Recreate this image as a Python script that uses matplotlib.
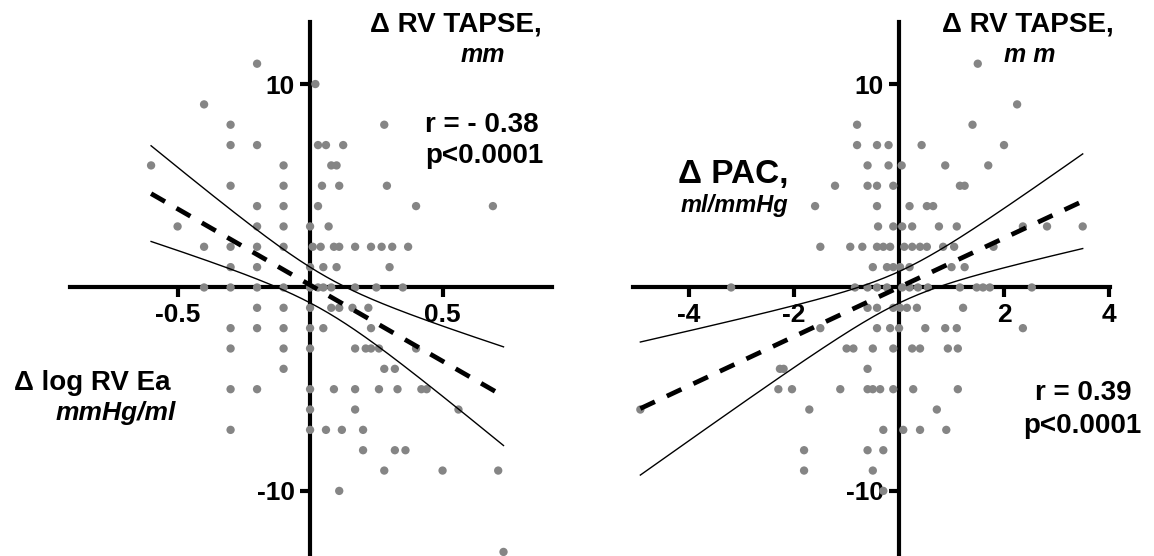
import numpy as np
import matplotlib
matplotlib.use("Agg")
import matplotlib.pyplot as plt

plt.rcParams['font.family'] = ['Liberation Sans', 'DejaVu Sans']
plt.rcParams['font.weight'] = 'bold'

# left panel: delta log RV Ea (x) vs delta RV TAPSE (y)
ea_x = [-0.2,
        0.02,
        -0.4,
        -0.3, 0.28,
        -0.3, -0.2, 0.03, 0.06, 0.125,
        -0.6, -0.1, 0.08, 0.1,
        -0.3, -0.1, 0.045, 0.11, 0.29,
        -0.2, -0.1, 0.03, 0.4, 0.69,
        -0.5, -0.2, -0.1, 0.0, 0.07,
        -0.4, -0.3, -0.2, -0.1, 0.01, 0.04, 0.09, 0.11, 0.17, 0.23, 0.27, 0.31, 0.37,
        -0.3, -0.2, 0.0, 0.05, 0.1, 0.3,
        -0.4, -0.3, -0.2, -0.1, 0.0, 0.03, 0.05, 0.08, 0.17, 0.25, 0.35,
        -0.2, -0.1, 0.0, 0.08, 0.11, 0.16, 0.22,
        -0.3, -0.2, -0.1, 0.0, 0.05, 0.23,
        -0.3, -0.1, 0.0, 0.17, 0.21, 0.23, 0.26, 0.4,
        -0.1, 0.28, 0.32,
        -0.3, -0.2, 0.0, 0.09, 0.17, 0.26, 0.33, 0.42, 0.44,
        0.0, 0.17, 0.56,
        -0.3, 0.0, 0.06, 0.12, 0.2,
        0.2, 0.32, 0.36,
        0.28, 0.5, 0.71,
        0.11,
        0.73]
ea_y = [11,
        10,
        9,
        8, 8,
        7, 7, 7, 7, 7,
        6, 6, 6, 6,
        5, 5, 5, 5, 5,
        4, 4, 4, 4, 4,
        3, 3, 3, 3, 3,
        2, 2, 2, 2, 2, 2, 2, 2, 2, 2, 2, 2, 2,
        1, 1, 1, 1, 1, 1,
        0, 0, 0, 0, 0, 0, 0, 0, 0, 0, 0,
        -1, -1, -1, -1, -1, -1, -1,
        -2, -2, -2, -2, -2, -2,
        -3, -3, -3, -3, -3, -3, -3, -3,
        -4, -4, -4,
        -5, -5, -5, -5, -5, -5, -5, -5, -5,
        -6, -6, -6,
        -7, -7, -7, -7, -7,
        -8, -8, -8,
        -9, -9, -9,
        -10,
        -13]

# right panel: delta PAC (x) vs delta RV TAPSE (y)
pac_x = [1.5,
         2.25,
         -0.8, 1.4,
         -0.8, -0.42, -0.2, 0.43, 2.0,
         -0.6, -0.2, 0.05, 0.88, 1.7,
         -1.22, -0.6, -0.42, -0.11, 1.16, 1.25,
         -1.6, -0.42, 0.2, 0.53, 0.65,
         -0.4, -0.11, 0.06, 0.25, 0.76, 1.1, 2.36, 2.82, 3.5,
         -1.5, -0.93, -0.7, -0.42, -0.3, -0.17, 0.1, 0.25, 0.4, 0.53, 0.84, 1.05, 1.8,
         -0.5, -0.23, -0.11, 0.02, 0.2, 1.0, 1.25,
         -3.2, -0.84, -0.6, -0.42, -0.23, 0.06, 0.2, 0.36, 0.55, 1.16, 1.48, 1.6, 1.73, 2.53,
         -0.6, -0.42, -0.11, 0.02, 0.15, 0.34, 1.22,
         -1.5, -0.42, -0.17, 0.0, 0.5, 0.88, 1.1, 2.36,
         -1.0, -0.87, -0.5, -0.11, 0.25, 0.4, 0.93, 1.12,
         -2.27, -2.2, -0.6,
         -2.3, -2.04, -1.12, -0.6, -0.5, -0.36, -0.11, 0.27, 1.12,
         -4.93, -1.71, 0.72,
         -0.3, 0.08, 0.4, 0.9,
         -1.81, -0.6, -0.3,
         -1.81, -0.5,
         -0.3]
pac_y = [11,
         9,
         8, 8,
         7, 7, 7, 7, 7,
         6, 6, 6, 6, 6,
         5, 5, 5, 5, 5, 5,
         4, 4, 4, 4, 4,
         3, 3, 3, 3, 3, 3, 3, 3, 3,
         2, 2, 2, 2, 2, 2, 2, 2, 2, 2, 2, 2, 2,
         1, 1, 1, 1, 1, 1, 1,
         0, 0, 0, 0, 0, 0, 0, 0, 0, 0, 0, 0, 0, 0,
         -1, -1, -1, -1, -1, -1, -1,
         -2, -2, -2, -2, -2, -2, -2, -2,
         -3, -3, -3, -3, -3, -3, -3, -3,
         -4, -4, -4,
         -5, -5, -5, -5, -5, -5, -5, -5, -5,
         -6, -6, -6,
         -7, -7, -7, -7,
         -8, -8, -8,
         -9, -9,
         -10]

W, H = 1154, 556
fig = plt.figure(figsize=(W / 100, H / 100), dpi=100)


def fx(px):
    return px / W


def fy(py):
    return 1 - py / H


def panel(rect, xs, ys, xlim, xticks, xticklabels):
    ax = fig.add_axes(rect)
    ax.set_xlim(*xlim)
    ax.set_ylim(-13.2, 13.05)
    for s in ['top', 'right']:
        ax.spines[s].set_visible(False)
    for s in ['left', 'bottom']:
        ax.spines[s].set_position('zero')
        ax.spines[s].set_linewidth(3.0)
        ax.spines[s].set_zorder(2)
    ax.set_xticks(xticks)
    ax.set_xticklabels(xticklabels)
    ax.set_yticks([-10, 10])
    ax.set_yticklabels(['-10', '10'])
    ax.tick_params(width=3.0, length=7, labelsize=19, pad=4)
    ax.scatter(xs, ys, s=36, color='#858585', edgecolors='none', zorder=3)

    # linear fit with 95% confidence band
    x = np.array(xs, dtype=float)
    y = np.array(ys, dtype=float)
    b, a = np.polyfit(x, y, 1)
    n = len(x)
    resid = y - (a + b * x)
    s = np.sqrt(np.sum(resid ** 2) / (n - 2))
    sxx = np.sum((x - x.mean()) ** 2)
    xx = np.linspace(x.min(), x.max(), 200)
    yy = a + b * xx
    hw = 1.98 * s * np.sqrt(1 / n + (xx - x.mean()) ** 2 / sxx)
    ax.plot(xx, yy, color='black', lw=3.4, dashes=(3.4, 2.8), zorder=4)
    ax.plot(xx, yy + hw, color='black', lw=1.0, zorder=4)
    ax.plot(xx, yy - hw, color='black', lw=1.0, zorder=4)
    return ax


panel([fx(70), 0, fx(552) - fx(70), fy(22)], ea_x, ea_y,
      (-0.906, 0.913), [-0.5, 0.5], ['-0.5', '0.5'])
panel([fx(633), 0, fx(1110) - fx(633), fy(22)], pac_x, pac_y,
      (-5.07, 4.02), [-4, -2, 2, 4], ['-4', '-2', '2', '4'])

# left panel texts
fig.text(fx(456), fy(24), '\u0394 RV TAPSE,', ha='center', va='center', fontsize=20)
fig.text(fx(483), fy(55), 'mm', ha='center', va='center', fontsize=18, style='italic')
fig.text(fx(425), fy(125), 'r = - 0.38', ha='left', va='center', fontsize=20)
fig.text(fx(425), fy(156), 'p<0.0001', ha='left', va='center', fontsize=20)
fig.text(fx(14), fy(383), '\u0394 log RV Ea', ha='left', va='center', fontsize=20)
fig.text(fx(116), fy(413), 'mmHg/ml', ha='center', va='center', fontsize=19, style='italic')

# right panel texts
fig.text(fx(1028), fy(24), '\u0394 RV TAPSE,', ha='center', va='center', fontsize=20)
fig.text(fx(1030), fy(55), 'm m', ha='center', va='center', fontsize=18, style='italic')
fig.text(fx(733), fy(175), '\u0394 PAC,', ha='center', va='center', fontsize=24)
fig.text(fx(734), fy(206), 'ml/mmHg', ha='center', va='center', fontsize=17, style='italic')
fig.text(fx(1083), fy(393), 'r = 0.39', ha='center', va='center', fontsize=20)
fig.text(fx(1082), fy(426), 'p<0.0001', ha='center', va='center', fontsize=20)

fig.savefig('out.png', dpi=100)
